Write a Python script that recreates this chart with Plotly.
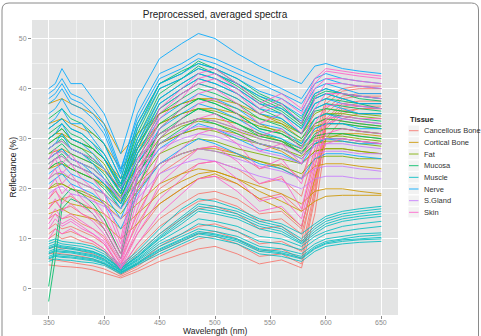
import plotly.graph_objects as go

WAVELENGTH = [350, 356, 362, 370, 380, 390, 400, 415, 430, 450, 470, 485, 500, 520, 540, 560, 578, 590, 600, 615, 630, 650]

CANCELLOUS_BONE = [
    [4.8, 4.6, 4.5, 4.4, 4.2, 3.8, 3.2, 2.2, 3.5, 5.5, 7, 8, 8.5, 7, 5, 5.8, 4.2, 15, 30, 34, 35, 35],
    [6, 5.8, 5.5, 5.3, 5, 4.6, 4, 2.5, 4, 6.5, 8.5, 10, 10.5, 9, 6.5, 7, 5, 18, 32, 35, 36, 36],
    [8, 8.5, 8, 8.2, 7.5, 7, 6, 3, 5, 8.5, 11, 12.5, 13, 11.5, 9, 9.5, 7.5, 20, 33, 36, 36.5, 36.5],
    [10, 11, 10, 10.5, 9.5, 9, 7.5, 3.5, 7, 11, 14, 16, 16.5, 15, 12, 12.5, 9.5, 22, 34, 37, 37.5, 37.5],
    [12, 13, 12, 12.5, 11.5, 10.5, 9, 4, 9, 14, 17, 19, 19.5, 18, 15, 15.5, 12, 24, 35, 38, 38.5, 38.5],
    [14, 15, 14, 14.5, 13, 12, 10.5, 5, 11, 17, 20, 22, 22.5, 21, 18, 19, 15.5, 26, 36, 38.5, 39, 39],
    [16, 17.5, 16, 16.5, 15, 14, 12, 6, 13, 20, 23, 25, 25.5, 24, 21, 22, 18.5, 28, 37, 39.5, 40, 40],
    [11, 12, 11, 11.5, 10.5, 9.5, 8, 3.8, 8, 12.5, 15.5, 17.5, 18, 16.5, 13.5, 14, 11, 21, 33.5, 36.5, 37, 37],
    [7, 7.2, 7, 6.8, 6.5, 6, 5, 2.8, 4.5, 7.5, 9.5, 11, 11.5, 10, 7.5, 8, 6, 19, 32.5, 35.5, 36, 36],
    [18, 19.5, 18, 18.5, 17, 16, 14, 7, 15, 23, 26, 28, 28.5, 27, 24, 25, 22, 30, 38, 40, 40.5, 40.5],
]

CORTICAL_BONE = [
    [37, 37.5, 38, 37, 36, 35, 33, 27, 31, 35, 37, 38, 38, 37, 35, 33, 30, 33, 34, 33.5, 33, 32.5],
    [30, 31, 31, 30, 29, 28, 26, 22, 26, 31, 33, 34, 34, 33, 31, 29.5, 27, 29.5, 30, 30, 29.5, 29],
    [27, 27.5, 28, 27, 26, 25, 23.5, 20, 24, 29, 31, 32, 32, 31, 29, 27.5, 25, 27.5, 28, 28, 27.5, 27],
    [24, 24.5, 25, 24, 23, 22, 21, 18, 21, 25, 27, 28, 28, 27, 25.5, 24, 22, 24.5, 25, 25, 24.5, 24],
    [20, 20.5, 21, 20, 19, 18, 17, 14, 17, 21, 23, 24, 23.5, 22, 20.5, 19, 17, 19.5, 20, 20, 19.5, 19],
    [15, 15.5, 16, 15, 14.5, 14, 13, 10, 13, 17, 20, 22, 23, 21, 18, 16, 12.5, 22, 30, 31, 31, 30.5],
    [17, 17.5, 18, 17, 16.5, 16, 15, 12, 15, 19, 21.5, 23, 23.5, 22, 19.5, 17.5, 15.5, 17.5, 18.5, 18.7, 18.7, 18.7],
    [33, 33.5, 34, 33, 32, 31, 29, 24, 28, 33, 35, 36, 36, 35, 33, 31, 28.5, 31.5, 32, 32, 31.5, 31],
]

FAT = [
    [30, 31, 32, 30, 29, 28, 26, 21, 29, 35, 37, 38, 37.5, 36, 34, 33, 31, 34, 35, 35, 34.5, 34],
    [28, 29, 29.5, 28, 27, 26, 24, 20, 27, 33, 35, 36, 35.5, 34, 32.5, 31.5, 29.5, 32.5, 33, 33, 32.5, 32],
    [26, 27, 27.5, 26, 25, 24, 22, 18.5, 25, 31, 33, 34, 33.5, 32, 30.5, 29.5, 28, 30.5, 31, 31, 30.5, 30],
    [24, 25, 25, 24, 23, 22, 20.5, 17, 23, 29, 31, 32, 31.5, 30, 29, 28, 26.5, 29, 29.5, 29.5, 29, 28.5],
    [22, 23, 23, 22, 21, 20, 19, 16, 21, 27, 29, 30, 29.5, 28, 27, 26, 25, 27.5, 28, 28, 27.5, 27],
    [20, 21, 21, 20, 19.5, 18.5, 17.5, 15, 19.5, 25, 27, 28, 27.5, 26.5, 25.5, 24.5, 23, 26, 26.5, 26.5, 26, 26],
    [29, 30, 31, 29, 28, 27, 25, 19, 28, 36, 39, 41, 40, 38, 35, 33.5, 31, 35, 36, 35.5, 35, 34.5],
    [25, 26, 26.5, 25, 24, 23, 21, 17.5, 24, 30, 32.5, 33.5, 33, 31.5, 30, 29, 27.5, 30, 30.5, 30.5, 30, 29.5],
]

MUCOSA = [
    [34, 35, 36, 34, 33, 31, 29, 22, 33, 41, 43, 45.5, 44, 42, 39, 37, 34, 39, 40, 39, 38.5, 38],
    [32, 33, 34, 32, 31, 29, 27, 21, 31, 40, 42, 44.5, 43, 41, 38, 36, 33, 38, 39, 38, 37, 37],
    [30, 31, 32, 30, 29, 28, 26, 20, 30, 39, 42, 44, 43, 40.5, 37.5, 35.5, 32.5, 37, 38, 37.5, 37, 36],
    [29, 30, 30.5, 29, 28, 26, 24, 19, 29, 38, 41, 43, 42, 40, 37, 35, 32, 36, 37, 36.5, 36, 35.5],
    [28, 29, 30, 28, 27, 25.5, 24, 19.5, 28, 37, 40, 42, 41, 39, 36, 34, 31, 35.5, 36, 35.5, 35, 35],
    [27, 28, 29, 27, 26, 25, 23, 18, 27, 35, 38, 40, 39, 37, 34, 32.5, 30, 34, 35, 34.5, 34, 33.5],
    [26, 27, 28, 26, 25, 24, 22, 18, 26, 33, 36, 38, 37, 35, 32, 31, 28.5, 32, 33, 33, 32.5, 32],
    [25, 26, 27, 25, 24, 23, 21, 17, 25, 31, 34, 36, 35, 33, 30.5, 29.5, 27, 30.5, 31, 31, 30.5, 30],
    [31, 32, 33, 31, 30, 28, 26, 20.5, 32, 41, 43.5, 45, 44, 41, 38.5, 36.5, 33, 38.5, 39.5, 39, 38, 37.5],
    [24, 25, 25.5, 24, 23, 22, 20, 16, 23, 29, 32, 34, 33, 31, 29, 28, 26, 29, 30, 30, 29.5, 29],
    [-2.5, 6, 16, 18, 17, 15, 12, 6, 20, 30, 34, 36, 35, 33, 31, 30, 27, 31, 32, 32, 31.5, 31],
    [0.5, 9, 18, 20, 19, 17, 14, 7, 22, 32, 36, 38, 37, 35, 32, 31, 29, 33, 34, 33.5, 33, 32.5],
]

MUSCLE = [
    [9, 9.5, 9, 8.8, 8.5, 8, 7, 4.5, 7, 11, 14.5, 17, 16.5, 15.5, 13.5, 12.5, 10, 12.5, 14, 15, 15.5, 16],
    [8.5, 9, 8.6, 8.4, 8, 7.5, 6.6, 4.2, 6.6, 10.5, 14, 16.5, 16, 15, 13, 12, 9.5, 12, 13.5, 14.5, 15, 15.5],
    [8, 8.5, 8.2, 8, 7.6, 7.2, 6.3, 4, 6.3, 10, 13, 15.5, 15, 14, 12, 11, 9, 11, 12.5, 13.5, 14, 14.5],
    [7.5, 8, 7.8, 7.6, 7.2, 6.8, 6, 3.8, 6, 9.5, 12, 14, 13.5, 12.5, 10.5, 10, 8.5, 10.5, 11.5, 12.5, 13, 13.5],
    [7, 7.5, 7.3, 7.2, 6.8, 6.4, 5.6, 3.6, 5.6, 8.5, 10.5, 12, 11.5, 10.5, 8.5, 8, 7, 9, 10, 10.5, 11, 11.2],
    [6.5, 7, 6.8, 6.7, 6.3, 6, 5.3, 3.4, 5.3, 8, 10, 11.5, 11, 10, 8, 7.5, 6.5, 8.5, 9.5, 10, 10.5, 10.8],
    [6, 6.5, 6.3, 6.2, 5.9, 5.6, 5, 3.2, 5, 7.5, 9.5, 11, 10.5, 9.5, 7.5, 7, 6, 8, 9, 9.5, 9.8, 10],
    [5.5, 6, 5.8, 5.7, 5.4, 5.2, 4.7, 3, 4.8, 7, 9, 10.5, 10, 9, 7, 6.5, 5.5, 7.5, 8.5, 9, 9.3, 9.5],
    [9.5, 10, 9.5, 9.3, 9, 8.5, 7.5, 4.8, 7.5, 12, 16, 18, 17.5, 16, 14, 13, 11, 13, 14.5, 15.5, 16, 16.5],
    [8.2, 8.7, 8.4, 8.2, 7.8, 7.4, 6.5, 4.1, 6.4, 10.2, 13.5, 16, 15.5, 14.5, 12.5, 11.5, 9.2, 11.5, 13, 14, 14.5, 15],
    [7.2, 7.7, 7.5, 7.4, 7, 6.6, 5.8, 3.7, 5.8, 9, 11, 13, 12.5, 11.5, 9.5, 9, 7.8, 9.8, 11, 11.5, 12, 12.5],
    [6.2, 6.7, 6.5, 6.4, 6.1, 5.8, 5.1, 3.3, 5.1, 7.8, 9.8, 11.2, 10.8, 9.8, 7.8, 7.2, 6.2, 8.2, 9.2, 9.8, 10, 10.3],
]

NERVE = [
    [40, 41, 44, 41, 41, 38, 35, 27, 38, 46, 49, 51, 50, 47, 44.5, 42.5, 41, 44.5, 45, 44, 43.5, 43],
    [39, 40, 42, 39, 38, 36, 33, 24, 34, 42, 44, 46, 45, 43, 41, 39, 37, 41, 42, 41, 40.5, 40],
    [37, 38, 40, 37, 36, 34, 31, 23, 33, 41, 43, 45, 44, 42, 39.5, 38, 35.5, 40, 41, 40, 39, 39],
    [35, 36, 38, 35, 34, 32, 29, 22, 32, 40, 42, 44, 43, 41, 38.5, 37, 34.5, 39, 40, 39, 38.5, 38],
    [33, 34, 36, 33, 33, 30, 27, 21, 30, 38, 41, 43, 42, 40, 37, 36, 33.5, 38, 39, 38, 37, 37],
    [32, 33, 34, 32, 31, 29, 26, 20, 29, 37, 40, 42, 41, 39, 36, 35, 32, 37, 38, 37, 36.5, 36],
    [30, 31, 33, 30, 29, 27, 24, 19, 28, 36, 39, 41, 40, 38, 35, 34, 31, 36, 37, 36, 35, 35],
    [28, 29, 31, 28, 27, 25, 22, 17, 27, 34, 37, 39, 38, 36, 33, 32, 29, 34, 35, 34, 33.5, 33],
    [26, 27, 28, 26, 25, 23, 21, 16, 25, 32, 35, 37, 36, 34, 31.5, 30, 28, 32, 33, 33, 32, 32],
    [23, 24, 25, 23, 22, 21, 19, 14, 22, 28, 31, 33, 32, 30, 28, 27, 25, 29, 30, 29.5, 29, 29],
    [38, 39, 41, 38, 37, 35, 32, 23.5, 35, 43, 45, 47, 46, 44, 42, 40, 38, 42, 43, 42, 41.5, 41],
    [21, 22, 23, 21, 20, 19, 17, 12, 19, 25, 28, 30, 29, 27, 25, 24, 22, 26, 27, 27, 26.5, 26],
]

S_GLAND = [
    [28, 29, 29.5, 28, 27, 26, 24, 20, 26, 31, 33, 34, 33.5, 32, 30, 29, 27, 29.5, 30, 30, 29.5, 29],
    [25, 26, 26.5, 25, 24, 23, 21.5, 18, 23, 28, 30, 31, 30.5, 29, 27.5, 26.5, 25, 27, 27.5, 27.5, 27, 27],
    [22, 23, 23.5, 22, 21, 20, 19, 16, 20, 25, 27, 28, 27.5, 26, 24.5, 23.5, 22, 24, 24.5, 24.5, 24, 23.5],
    [19, 20, 20.5, 19, 18.5, 17.5, 16.5, 14, 18, 23, 25, 26, 25.5, 24, 22.5, 21.5, 20, 22, 22.5, 22.5, 22, 22],
    [26, 27, 27.5, 26, 25, 24, 22, 18, 24, 29, 31.5, 32.5, 32, 30.5, 29, 28, 26, 28.5, 29, 29, 28.5, 28],
]

SKIN = [
    [22, 24, 21, 23, 20, 18, 15, 8, 22, 34, 38, 42, 43, 40, 36, 38, 35, 41, 43.5, 43, 42.5, 42],
    [20, 22, 19, 21, 18, 16, 13, 7, 20, 32, 36, 39, 40, 37, 33, 35, 31, 38, 41, 41, 40.5, 40],
    [18, 20, 17, 19, 16.5, 15, 12, 6, 18, 30, 34, 37, 38, 35, 30.5, 32, 28, 36, 39, 39, 38.5, 38],
    [16, 18, 15.5, 17, 15, 13.5, 11, 5.5, 16, 27, 31, 34, 35, 32, 27.5, 29, 25, 33, 36.5, 37, 36.5, 36],
    [14, 16, 14, 15, 13.5, 12, 10, 5, 14, 24, 28, 31, 32, 29, 24, 26, 21, 30, 34, 34.5, 34, 34],
    [12, 14, 12.5, 13.5, 12, 11, 9, 4.5, 12, 21, 25, 28, 28.5, 25.5, 21, 22.5, 16, 27, 33, 34, 33.5, 33],
    [26, 28, 25, 27, 24, 22, 19, 10, 25, 36, 40, 43, 44, 41, 37, 39, 36, 42, 44, 43.5, 43, 42.5],
    [13, 15, 13, 14, 12.5, 11, 9.5, 4, 11, 18, 22, 25, 25.5, 22, 17.5, 18.5, 14, 25, 31, 32, 31.5, 31],
    [24, 26, 23, 25, 22, 20, 17, 9, 23, 35, 39, 41, 42, 39, 35, 37, 33, 40, 42, 42, 41.5, 41],
    [10, 12, 11, 12, 10.5, 9.5, 8, 4, 9, 15, 19, 22, 22.5, 19.5, 15.5, 16.5, 12.5, 23, 29, 30, 29.5, 29],
]

TISSUE_NAMES = ["Cancellous Bone", "Cortical Bone", "Fat", "Mucosa", "Muscle", "Nerve", "S.Gland", "Skin"]
TISSUE_DATA = [CANCELLOUS_BONE, CORTICAL_BONE, FAT, MUCOSA, MUSCLE, NERVE, S_GLAND, SKIN]
TISSUE_COLORS = ["#F8766D", "#CD9600", "#7CAE00", "#00BE67", "#00BFC4", "#00A9FF", "#C77CFF", "#FF61CC"]

X_TICKS = [350, 400, 450, 500, 550, 600, 650]
Y_TICKS = [0, 10, 20, 30, 40, 50]

FONT = "Liberation Sans, Arial, sans-serif"
W, H = 481, 336
L, R, T, B = 32, 398, 20, 315  # panel box in pixels


def px(xp):
    return (xp - L) / (W - L)


def py(yp):
    return (B - yp) / (B - T)


fig = go.Figure()
for name, rows, color in zip(TISSUE_NAMES, TISSUE_DATA, TISSUE_COLORS):
    for row in rows:
        fig.add_trace(go.Scatter(
            x=WAVELENGTH, y=row, mode="lines", name=name, legendgroup=name,
            showlegend=False, opacity=0.85, line=dict(color=color, width=1),
        ))

shapes = []
annotations = []

# outer frame (rounded rectangle)
x0, x1, y0, y1, r = 2, 478.5, 3, 345, 7
path = (f"M {px(x0 + r)},{py(y0)} L {px(x1 - r)},{py(y0)} Q {px(x1)},{py(y0)} {px(x1)},{py(y0 + r)} "
        f"L {px(x1)},{py(y1)} L {px(x0)},{py(y1)} L {px(x0)},{py(y0 + r)} Q {px(x0)},{py(y0)} {px(x0 + r)},{py(y0)} Z")
shapes.append(dict(type="path", path=path, xref="paper", yref="paper",
                   line=dict(color="#8a8a8a", width=1), layer="below"))

# x tick labels (placed on the x scale)
for v in X_TICKS:
    annotations.append(dict(text=str(v), x=v, xref="x", y=py(322), yref="paper",
                            xanchor="center", yanchor="middle", showarrow=False,
                            font=dict(family=FONT, size=7, color="#8C8C8C")))

# axis titles
annotations.append(dict(text="Wavelength (nm)", x=px((L + R) / 2), y=py(331), xref="paper", yref="paper",
                        xanchor="center", yanchor="middle", showarrow=False,
                        font=dict(family=FONT, size=8.5, color="#222222")))
annotations.append(dict(text="Reflectance (%)", x=px(12), y=py((T + B) / 2), xref="paper", yref="paper",
                        xanchor="center", yanchor="middle", showarrow=False, textangle=-90,
                        font=dict(family=FONT, size=8.5, color="#222222")))

# manual legend (ggplot style)
annotations.append(dict(text="<b>Tissue</b>", x=px(407.5), y=py(119.3), xref="paper", yref="paper",
                        xanchor="left", yanchor="middle", showarrow=False,
                        font=dict(family=FONT, size=7.5, color="#222222")))
for i, (name, color) in enumerate(zip(TISSUE_NAMES, TISSUE_COLORS)):
    yc = 130.7 + i * 11.66
    shapes.append(dict(type="rect", xref="paper", yref="paper",
                       x0=px(408), x1=px(419.5), y0=py(yc - 5.6), y1=py(yc + 5.6),
                       fillcolor="#F2F2F2", line=dict(width=0.8, color="#FFFFFF"), layer="above"))
    shapes.append(dict(type="line", xref="paper", yref="paper",
                       x0=px(409), x1=px(418.5), y0=py(yc), y1=py(yc),
                       line=dict(color=color, width=1), opacity=0.85, layer="above"))
    annotations.append(dict(text=name, x=px(421.5), y=py(yc), xref="paper", yref="paper",
                            xanchor="left", yanchor="middle", showarrow=False,
                            font=dict(family=FONT, size=7.5, color="#333333")))

axis_common = dict(
    showgrid=True, gridcolor="#FFFFFF", gridwidth=1, zeroline=False, automargin=False,
    ticks="outside", ticklen=3, tickcolor="#8C8C8C", tickwidth=1,
    tickfont=dict(family=FONT, size=7, color="#8C8C8C"), showline=False,
)

fig.update_layout(
    width=W, height=H,
    margin=dict(l=L, r=0, t=T, b=H - B),
    paper_bgcolor="#FFFFFF", plot_bgcolor="#E3E4E4",
    showlegend=False,
    shapes=shapes, annotations=annotations,
    title=dict(text="Preprocessed, averaged spectra", x=(L + R) / 2 / W, xanchor="center",
               y=1 - 14 / H, yanchor="middle", font=dict(family=FONT, size=10, color="#222222")),
    xaxis=dict(range=[335, 665], domain=[0, (R - L) / (W - L)],
               tickvals=X_TICKS, showticklabels=False,
               minor=dict(dtick=50, tick0=325, showgrid=True, gridcolor="#F0F1F1", gridwidth=0.6, ticks=""),
               **axis_common),
    yaxis=dict(range=[-5.2, 53.7], tickvals=Y_TICKS, ticktext=[str(v) for v in Y_TICKS],
               minor=dict(dtick=10, tick0=5, showgrid=True, gridcolor="#F0F1F1", gridwidth=0.6, ticks=""),
               **axis_common),
)

fig.write_html("out.html")
